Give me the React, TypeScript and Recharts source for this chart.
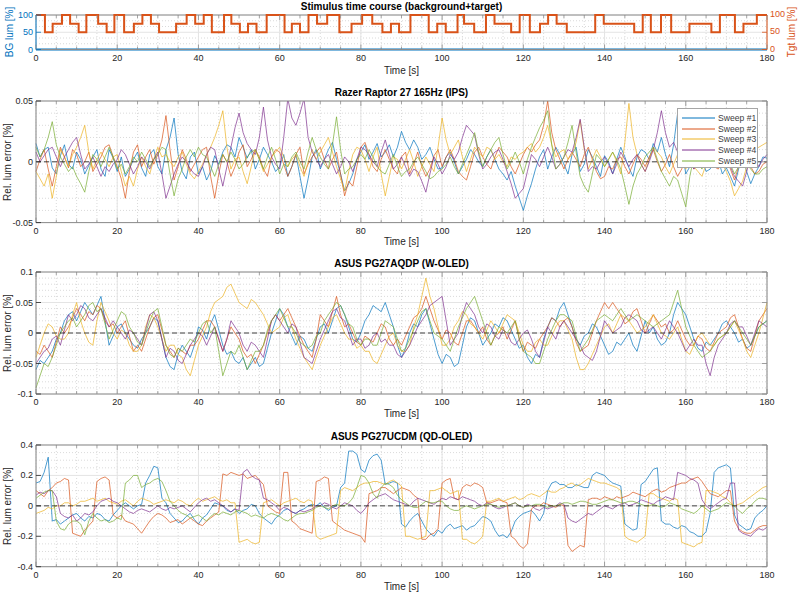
import React from "react";
import { LineChart, Line, XAxis, YAxis, CartesianGrid, ReferenceLine } from "recharts";

// ---- data (1 s sampling) ----
const TIME = [
  0, 1, 2, 3, 4, 5, 6, 7, 8, 9, 10, 11, 12, 13, 14, 15, 16, 17, 18, 19,
  20, 21, 22, 23, 24, 25, 26, 27, 28, 29, 30, 31, 32, 33, 34, 35, 36, 37, 38, 39,
  40, 41, 42, 43, 44, 45, 46, 47, 48, 49, 50, 51, 52, 53, 54, 55, 56, 57, 58, 59,
  60, 61, 62, 63, 64, 65, 66, 67, 68, 69, 70, 71, 72, 73, 74, 75, 76, 77, 78, 79,
  80, 81, 82, 83, 84, 85, 86, 87, 88, 89, 90, 91, 92, 93, 94, 95, 96, 97, 98, 99,
  100, 101, 102, 103, 104, 105, 106, 107, 108, 109, 110, 111, 112, 113, 114, 115, 116, 117, 118, 119,
  120, 121, 122, 123, 124, 125, 126, 127, 128, 129, 130, 131, 132, 133, 134, 135, 136, 137, 138, 139,
  140, 141, 142, 143, 144, 145, 146, 147, 148, 149, 150, 151, 152, 153, 154, 155, 156, 157, 158, 159,
  160, 161, 162, 163, 164, 165, 166, 167, 168, 169, 170, 171, 172, 173, 174, 175, 176, 177, 178, 179,
  180,
];

const STIM_T = [
  0, 2.2, 4.1, 6.4, 8.4, 10.5, 12.4, 15.3, 17.4, 19.3, 21.7, 24.1, 26.2, 28.3, 30.3, 34.5, 37.1, 39.2, 41.3, 43.3,
  46.3, 48.1, 50.2, 52.2, 54.3, 56.8, 61.2, 63, 65, 67.1, 69.2, 71.7, 74.7, 77.7, 80.3, 82.8, 85.3, 87.4, 89.4, 92.2,
  96.7, 98.8, 100.9, 103.8, 105.4, 107.9, 110.8, 112.9, 117, 119.1, 121.6, 124.1, 126.1, 128.2, 130.7, 137.7, 139.8,
  147.3, 149.4, 151.4, 153.9, 156.4, 160.9, 166.3, 168.4, 172.1, 174.2, 177.5, 180,
];
const TGT_LUM = [
  100, 50, 75, 100, 75, 50, 100, 75, 50, 100, 50, 75, 100, 75, 50, 75, 100, 75, 100, 50, 100, 75, 50, 75, 50, 100, 50,
  75, 50, 100, 75, 100, 50, 75, 100, 75, 50, 75, 50, 100, 50, 75, 50, 100, 75, 50, 100, 75, 50, 100, 50, 75, 100, 75,
  50, 100, 75, 50, 100, 50, 100, 50, 75, 50, 100, 50, 75, 100, 100,
];
const BG_LUM = 0;

const SWEEP_NAMES = ["Sweep #1", "Sweep #2", "Sweep #3", "Sweep #4", "Sweep #5"];

// Razer Raptor 27 165Hz (IPS)
const IPS_1 = [
  0.015, 0.004, 0.01, 0.012, -0.005, -0.01, 0.005, 0.014, -0.002, -0.006, 0.008, 0.002, -0.01, -0.003, 0.004, 0.01, -0.006, -0.012, 0.01, 0.003,
  -0.008, 0.004, -0.012, -0.006, 0.002, 0.008, -0.005, -0.012, 0.006, 0.01, -0.004, -0.01, 0.01, 0.02, 0.036, 0.006, -0.008, -0.014, 0.004, 0.008,
  -0.01, -0.004, -0.015, -0.008, 0.005, -0.002, 0.008, 0.014, 0.012, 0.004, 0.02, 0.012, 0.003, 0.01, -0.006, 0.002, 0.012, 0.006, 0.0, -0.008,
  -0.004, 0.006, -0.012, -0.004, 0.006, -0.012, -0.03, -0.014, 0.004, 0.01, -0.006, 0.002, 0.01, 0.016, 0.002, -0.01, -0.024, -0.018, -0.01, 0.002,
  0.008, 0.014, 0.002, 0.008, 0.015, 0.004, 0.008, 0.014, 0.004, 0.012, 0.025, 0.016, 0.01, 0.018, 0.012, 0.002, 0.006, 0.012, 0.002, -0.006,
  -0.005, 0.004, 0.008, 0.0, -0.01, -0.004, 0.002, 0.01, 0.006, 0.0, -0.004, 0.004, 0.01, 0.002, -0.006, -0.01, -0.015, -0.008, -0.02, -0.03,
  -0.04, -0.028, -0.018, -0.006, 0.004, 0.01, -0.006, 0.004, 0.012, 0.006, -0.002, -0.01, 0.006, 0.012, -0.008, -0.002, 0.01, 0.004, -0.004, -0.012,
  0.005, 0.0, -0.01, 0.002, 0.012, 0.004, -0.005, -0.012, 0.004, 0.01, 0.008, 0.002, 0.015, 0.008, 0.02, 0.006, -0.004, 0.014, 0.04, 0.012,
  -0.01, -0.004, 0.004, 0.01, 0.003, -0.008, -0.006, 0.002, 0.002, -0.01, -0.005, -0.012, -0.02, -0.006, 0.004, -0.008, -0.018, -0.01, -0.004, 0.004,
  0.003,
];
const IPS_2 = [
  -0.008, 0.002, 0.01, -0.006, -0.02, -0.004, 0.012, 0.004, -0.005, 0.01, 0.006, -0.004, 0.0, 0.008, -0.008, -0.002, 0.004, 0.012, 0.014, 0.004,
  -0.004, -0.014, -0.03, -0.008, 0.008, 0.014, -0.004, 0.004, 0.01, -0.002, 0.006, 0.018, 0.038, 0.01, -0.015, -0.004, 0.01, 0.002, -0.008, -0.002,
  0.004, 0.01, 0.012, -0.012, -0.03, -0.01, 0.006, 0.0, -0.012, -0.004, 0.008, 0.014, -0.004, 0.002, 0.01, 0.004, -0.006, -0.012, 0.004, 0.01,
  0.008, -0.002, -0.012, -0.004, 0.006, 0.012, -0.01, -0.002, 0.004, 0.008, 0.012, 0.002, -0.006, 0.002, 0.008, -0.01, -0.028, -0.016, -0.02, -0.004,
  0.012, 0.016, 0.006, -0.004, -0.008, 0.002, 0.01, 0.002, -0.006, -0.01, 0.004, 0.008, -0.01, -0.002, 0.008, -0.004, -0.012, -0.006, 0.005, 0.01,
  -0.004, 0.004, 0.01, 0.002, -0.008, -0.012, -0.015, -0.004, 0.008, 0.012, 0.004, -0.002, -0.006, 0.004, 0.012, 0.008, 0.004, -0.004, -0.01, -0.002,
  0.006, 0.012, 0.008, 0.014, 0.018, 0.03, 0.05, 0.024, 0.01, 0.002, -0.006, 0.002, 0.008, 0.002, -0.004, 0.006, 0.012, 0.002, -0.008, -0.014,
  -0.012, -0.004, -0.006, 0.002, 0.004, -0.004, -0.01, -0.002, 0.006, 0.002, -0.004, 0.004, 0.01, 0.0, -0.008, -0.002, 0.006, -0.004, -0.012, -0.006,
  0.004, 0.008, -0.006, 0.002, 0.008, 0.004, 0.002, -0.004, -0.006, 0.0, 0.004, -0.006, -0.015, -0.004, 0.006, 0.002, -0.004, -0.01, -0.008, -0.002,
  0.0,
];
const IPS_3 = [
  -0.008, -0.014, -0.02, -0.01, -0.03, -0.012, 0.01, 0.004, -0.004, 0.006, 0.012, 0.02, 0.03, 0.008, -0.006, 0.002, 0.008, 0.002, -0.004, 0.004,
  0.006, -0.008, -0.02, -0.012, -0.02, -0.006, 0.004, -0.004, -0.01, 0.002, 0.012, 0.004, 0.006, 0.0, -0.004, 0.004, 0.008, -0.002, -0.01, -0.014,
  -0.008, -0.002, 0.006, 0.012, 0.02, 0.03, 0.042, 0.012, -0.006, 0.002, 0.004, -0.008, -0.018, -0.004, 0.01, 0.002, -0.008, -0.002, 0.004, 0.008,
  0.012, 0.004, -0.004, 0.002, 0.006, -0.004, -0.012, 0.0, 0.01, 0.002, 0.008, 0.014, 0.02, 0.008, -0.004, -0.014, -0.024, -0.008, 0.006, 0.012,
  0.01, 0.002, -0.008, 0.004, 0.012, -0.01, -0.028, -0.012, 0.004, 0.002, -0.006, 0.002, 0.01, 0.0, -0.012, -0.004, 0.004, -0.002, -0.008, 0.012,
  0.036, 0.018, 0.006, 0.012, 0.018, 0.004, -0.008, 0.002, 0.012, 0.008, 0.004, 0.012, 0.01, 0.002, 0.006, 0.0, -0.004, 0.004, 0.002, 0.006,
  0.008, 0.012, 0.015, 0.008, 0.012, 0.02, 0.03, 0.014, 0.004, 0.008, 0.01, 0.002, 0.006, 0.016, 0.034, 0.01, -0.006, 0.002, 0.01, 0.004,
  -0.004, 0.002, 0.008, 0.0, -0.01, 0.016, 0.048, 0.02, 0.006, -0.002, -0.008, 0.002, 0.012, 0.008, 0.004, -0.004, -0.01, -0.002, 0.006, 0.0,
  -0.006, 0.002, -0.004, -0.008, -0.012, -0.002, 0.006, 0.0, 0.004, -0.002, -0.008, -0.016, -0.028, -0.022, -0.016, -0.004, 0.006, 0.01, 0.012, 0.014,
  0.016,
];
const IPS_4 = [
  0.008, 0.0, 0.005, 0.01, 0.012, 0.004, -0.004, 0.004, 0.01, 0.016, 0.02, 0.006, -0.006, -0.002, 0.004, -0.004, -0.012, -0.004, -0.008, -0.002,
  0.002, 0.01, 0.006, -0.002, -0.01, -0.004, 0.004, 0.0, -0.006, 0.002, 0.008, -0.01, -0.03, -0.02, -0.01, -0.002, 0.004, 0.0, -0.006, -0.01,
  -0.012, -0.004, 0.006, 0.012, 0.01, -0.006, -0.02, -0.004, 0.012, 0.028, 0.04, 0.024, 0.015, 0.01, 0.006, 0.02, 0.045, 0.018, 0.004, -0.002,
  -0.006, 0.02, 0.052, 0.036, 0.03, 0.04, 0.052, 0.02, 0.008, 0.002, -0.004, 0.002, 0.006, -0.002, -0.01, -0.004, 0.004, 0.0, -0.008, 0.002,
  0.012, 0.01, 0.006, 0.0, -0.004, 0.008, 0.018, 0.006, -0.006, -0.002, 0.004, -0.004, -0.012, -0.006, -0.008, -0.016, -0.025, -0.01, 0.004, -0.002,
  -0.01, -0.004, 0.006, 0.002, 0.008, 0.02, 0.03, 0.026, 0.022, 0.006, -0.006, -0.002, 0.004, 0.008, 0.01, 0.002, -0.008, -0.018, -0.03, -0.026,
  -0.022, -0.008, 0.006, 0.002, -0.004, 0.004, 0.012, 0.004, -0.006, -0.002, 0.004, 0.01, 0.008, 0.02, 0.035, 0.012, -0.008, -0.004, -0.006, 0.0,
  0.004, -0.002, -0.01, -0.002, 0.008, 0.002, -0.004, 0.002, 0.006, -0.002, -0.008, 0.0, 0.01, 0.024, 0.042, 0.024, 0.012, 0.016, 0.008, 0.002,
  0.004, 0.0, -0.006, 0.0, 0.006, 0.002, -0.004, 0.0, 0.002, 0.006, 0.004, -0.004, -0.012, -0.016, -0.02, -0.008, 0.004, 0.002, -0.004, 0.002,
  0.006,
];
const IPS_5 = [
  0.012, 0.004, 0.01, 0.02, 0.033, 0.014, 0.004, -0.002, -0.008, -0.004, -0.012, -0.018, -0.025, -0.008, 0.006, 0.002, -0.004, 0.004, 0.012, 0.004,
  -0.006, -0.002, -0.01, -0.004, 0.004, 0.0, 0.008, 0.002, -0.004, 0.002, 0.006, 0.012, 0.01, -0.01, -0.028, -0.014, -0.006, 0.004, 0.01, 0.004,
  0.012, 0.006, 0.004, -0.004, -0.012, -0.002, 0.006, 0.0, 0.008, 0.002, -0.006, -0.002, 0.004, 0.008, 0.01, 0.002, -0.006, 0.004, 0.012, 0.002,
  -0.01, -0.002, -0.004, 0.004, 0.008, 0.0, -0.006, 0.008, 0.02, 0.01, 0.004, -0.002, -0.006, 0.014, 0.037, 0.01, -0.01, -0.006, -0.004, 0.002,
  0.006, 0.002, 0.01, 0.004, -0.004, -0.008, -0.01, -0.002, 0.006, -0.004, -0.012, -0.008, -0.006, 0.0, 0.004, -0.002, -0.008, -0.014, -0.012, -0.008,
  -0.006, -0.002, 0.004, -0.004, -0.01, -0.002, 0.006, 0.014, 0.024, 0.008, -0.004, 0.004, 0.01, 0.016, 0.02, 0.006, -0.006, 0.0, 0.008, 0.0,
  -0.01, 0.002, 0.012, 0.02, 0.028, 0.034, 0.042, 0.014, -0.006, -0.002, 0.004, 0.016, 0.03, 0.008, -0.012, -0.02, -0.025, -0.01, 0.006, 0.002,
  -0.004, 0.002, 0.008, 0.002, -0.006, -0.02, -0.035, -0.02, -0.01, -0.004, 0.004, 0.008, 0.012, 0.002, -0.008, -0.014, -0.02, -0.012, -0.015, -0.026,
  -0.037, -0.012, 0.004, -0.002, -0.006, 0.002, 0.008, 0.002, -0.004, 0.002, 0.006, -0.002, -0.01, -0.004, 0.004, -0.002, -0.006, -0.01, -0.01, -0.006,
  -0.004,
];

// ASUS PG27AQDP (W-OLED)
const WOLED_1 = [
  -0.06, -0.045, -0.05, -0.04, -0.03, -0.01, 0.0, 0.02, 0.03, 0.035, 0.02, 0.035, 0.05, 0.04, 0.03, 0.045, 0.06, 0.02, -0.02, -0.005,
  0.01, 0.015, 0.0, -0.01, -0.02, -0.025, -0.01, 0.0, 0.01, 0.025, 0.02, -0.01, -0.04, -0.055, -0.06, -0.035, -0.02, -0.03, -0.04, -0.02,
  0.01, 0.005, -0.01, 0.015, 0.03, 0.005, -0.02, -0.035, -0.03, -0.045, -0.05, -0.04, -0.06, -0.05, -0.04, -0.055, -0.05, -0.025, 0.0, 0.02,
  0.04, 0.03, 0.01, -0.005, -0.02, -0.005, -0.01, -0.025, -0.03, -0.01, 0.01, 0.015, 0.0, 0.02, 0.04, 0.045, 0.03, 0.01, -0.01, -0.015,
  0.0, 0.02, 0.03, 0.045, 0.04, 0.035, 0.05, 0.03, 0.01, -0.02, -0.04, -0.025, 0.0, 0.015, 0.01, 0.03, 0.04, 0.015, -0.01, -0.035,
  -0.05, -0.035, -0.04, -0.055, -0.05, -0.02, 0.01, 0.025, 0.02, 0.0, -0.02, -0.01, 0.0, 0.015, 0.01, 0.025, 0.02, 0.005, -0.01, -0.025,
  -0.02, -0.04, -0.05, -0.035, -0.04, -0.01, 0.01, 0.025, 0.02, 0.04, 0.05, 0.03, 0.01, -0.01, -0.02, -0.005, 0.0, 0.015, 0.01, -0.005,
  -0.02, -0.035, -0.03, -0.015, -0.02, -0.01, 0.0, -0.02, -0.03, -0.005, 0.02, 0.0, 0.01, -0.01, -0.02, -0.015, 0.0, 0.03, 0.05, 0.04,
  0.03, 0.01, -0.01, -0.025, -0.03, -0.015, -0.02, -0.01, 0.0, 0.015, 0.02, 0.01, 0.0, -0.015, -0.01, -0.025, -0.02, -0.005, 0.01, 0.015,
  0.02,
];
const WOLED_2 = [
  -0.03, -0.035, -0.02, -0.03, -0.04, -0.015, 0.01, 0.0, 0.01, 0.025, 0.04, 0.03, 0.02, 0.035, 0.03, 0.045, 0.04, 0.02, 0.01, 0.015,
  0.0, 0.01, 0.02, -0.005, -0.03, -0.02, -0.03, -0.01, 0.01, 0.025, 0.03, 0.005, -0.02, -0.03, -0.04, -0.025, -0.03, -0.035, -0.02, -0.02,
  -0.01, 0.005, 0.02, 0.02, 0.01, -0.01, -0.03, -0.01, 0.01, 0.0, -0.01, -0.03, -0.04, -0.035, -0.05, -0.035, -0.02, 0.0, 0.02, 0.03,
  0.02, 0.03, 0.04, 0.025, 0.01, -0.005, -0.02, -0.03, -0.04, -0.01, 0.03, 0.02, 0.01, 0.035, 0.06, 0.03, 0.01, 0.015, 0.0, -0.015,
  -0.02, -0.005, -0.01, -0.015, 0.0, 0.015, 0.01, -0.01, -0.02, -0.01, -0.02, -0.005, 0.01, 0.025, 0.03, 0.04, 0.06, 0.04, 0.02, 0.005,
  -0.01, 0.005, 0.0, -0.015, -0.02, 0.0, 0.02, 0.02, 0.01, 0.0, 0.01, -0.01, -0.02, -0.005, 0.0, 0.01, -0.01, 0.005, 0.02, -0.01,
  -0.03, -0.015, -0.02, -0.025, -0.01, 0.0, 0.01, 0.025, 0.02, 0.01, 0.02, 0.025, 0.01, -0.015, -0.03, -0.025, -0.02, 0.0, 0.02, 0.035,
  0.05, 0.04, 0.05, 0.04, 0.03, 0.015, 0.02, 0.035, 0.04, 0.02, 0.0, 0.015, 0.03, 0.02, 0.01, 0.015, 0.0, 0.005, 0.02, 0.005,
  -0.01, -0.02, -0.02, -0.005, -0.01, -0.025, -0.03, -0.015, 0.0, 0.005, 0.01, 0.025, 0.03, 0.01, -0.01, -0.025, -0.03, -0.005, 0.02, 0.03,
  0.04,
];
const WOLED_3 = [
  -0.04, -0.02, 0.0, 0.015, 0.01, -0.005, -0.01, -0.01, 0.0, 0.03, 0.05, 0.02, 0.0, -0.015, -0.02, 0.02, 0.05, 0.035, 0.02, 0.0,
  -0.01, 0.005, 0.0, -0.02, -0.03, -0.03, -0.02, 0.01, 0.03, 0.025, 0.01, -0.01, -0.03, -0.02, -0.02, -0.035, -0.04, -0.06, -0.07, -0.045,
  -0.02, -0.005, 0.01, 0.035, 0.05, 0.055, 0.06, 0.075, 0.08, 0.065, 0.05, 0.045, 0.04, 0.055, 0.05, 0.04, 0.03, 0.015, 0.0, 0.005,
  0.01, 0.025, 0.03, 0.01, -0.01, -0.025, -0.04, -0.05, -0.06, -0.04, -0.02, -0.005, 0.01, 0.025, 0.03, 0.015, 0.0, -0.01, -0.01, -0.025,
  -0.02, -0.03, -0.03, -0.045, -0.05, -0.035, -0.02, -0.005, 0.0, -0.02, -0.03, -0.03, -0.02, 0.01, 0.03, 0.06, 0.09, 0.06, 0.04, 0.01,
  -0.02, -0.02, -0.01, 0.01, 0.02, 0.035, 0.03, 0.015, 0.01, 0.0, -0.01, 0.005, 0.02, 0.01, 0.0, 0.015, 0.03, 0.025, 0.02, 0.0,
  -0.02, -0.03, -0.03, -0.015, -0.01, -0.02, -0.02, -0.005, 0.01, 0.02, 0.02, 0.005, -0.01, -0.04, -0.06, -0.06, -0.05, -0.035, -0.02, -0.005,
  0.01, 0.015, 0.0, 0.015, 0.03, 0.025, 0.02, 0.01, 0.0, 0.005, 0.01, 0.02, 0.03, 0.015, 0.0, -0.005, -0.01, 0.0, 0.01, -0.01,
  -0.03, -0.035, -0.02, -0.005, 0.0, -0.01, -0.02, -0.02, -0.01, -0.005, 0.0, 0.01, 0.02, 0.005, -0.01, -0.03, -0.04, -0.02, 0.0, 0.025,
  0.05,
];
const WOLED_4 = [
  -0.05, -0.04, -0.03, -0.025, -0.01, -0.005, -0.02, 0.005, 0.03, 0.02, 0.03, 0.045, 0.04, 0.025, 0.02, 0.03, 0.04, 0.025, 0.01, 0.02,
  0.01, 0.0, -0.01, 0.005, 0.0, -0.01, -0.02, 0.005, 0.03, 0.035, 0.02, -0.01, -0.04, -0.025, -0.03, -0.045, -0.05, -0.035, -0.02, -0.01,
  0.0, -0.005, -0.02, -0.005, 0.01, -0.01, -0.03, -0.01, 0.02, 0.01, 0.0, -0.02, -0.03, -0.015, -0.02, -0.03, -0.04, -0.01, 0.02, 0.03,
  0.02, 0.01, 0.0, 0.015, 0.01, -0.015, -0.04, -0.045, -0.05, -0.03, -0.01, 0.005, 0.02, 0.035, 0.04, 0.025, 0.02, 0.0, -0.02, -0.01,
  -0.01, -0.025, -0.02, -0.005, 0.0, -0.015, -0.01, -0.02, -0.02, -0.035, -0.04, -0.03, -0.02, -0.005, 0.01, 0.02, 0.03, 0.045, 0.05, 0.055,
  0.06, 0.02, -0.02, -0.01, 0.0, 0.03, 0.05, 0.04, 0.03, 0.01, 0.0, 0.015, 0.01, -0.005, -0.01, 0.005, 0.0, -0.015, -0.02, -0.01,
  0.0, 0.005, -0.01, -0.03, -0.04, -0.015, 0.01, 0.0, -0.01, 0.01, 0.02, 0.01, 0.0, -0.01, -0.02, -0.035, -0.04, -0.045, -0.03, -0.005,
  0.02, 0.01, 0.0, 0.005, 0.01, 0.025, 0.03, 0.025, 0.02, 0.005, 0.0, 0.005, 0.01, 0.0, -0.01, 0.005, 0.02, 0.01, 0.0, -0.015,
  -0.03, -0.02, -0.01, -0.02, -0.02, -0.05, -0.07, -0.04, -0.02, -0.01, 0.0, 0.015, 0.02, 0.01, 0.01, -0.005, -0.02, 0.0, 0.02, 0.015,
  0.01,
];
const WOLED_5 = [
  -0.09, -0.07, -0.05, -0.055, -0.04, -0.02, 0.0, 0.01, 0.02, 0.025, 0.01, 0.02, 0.03, 0.045, 0.05, 0.035, 0.04, 0.015, -0.01, 0.005,
  0.02, 0.035, 0.03, 0.01, 0.0, -0.015, -0.02, 0.0, 0.02, 0.035, 0.04, 0.01, -0.02, -0.035, -0.04, -0.025, -0.03, -0.02, -0.01, -0.015,
  0.0, 0.015, 0.02, 0.0, 0.01, -0.03, -0.07, -0.05, -0.03, -0.035, -0.02, -0.04, -0.06, -0.045, -0.03, -0.03, -0.02, 0.005, 0.02, 0.03,
  0.04, 0.025, 0.01, 0.01, 0.0, -0.015, -0.02, -0.025, -0.02, -0.005, 0.0, 0.02, 0.03, 0.04, 0.05, 0.045, 0.03, 0.015, 0.01, -0.01,
  -0.02, -0.01, -0.01, -0.02, -0.02, 0.0, 0.02, 0.015, 0.01, -0.01, -0.03, -0.025, -0.01, 0.005, 0.02, 0.035, 0.04, 0.02, 0.0, -0.005,
  -0.01, -0.02, -0.03, -0.01, 0.01, 0.025, 0.04, 0.05, 0.06, 0.04, 0.02, 0.0, -0.02, -0.005, 0.01, 0.005, 0.0, 0.01, 0.02, -0.01,
  -0.03, -0.035, -0.04, -0.05, -0.05, -0.03, -0.01, 0.005, 0.02, 0.03, 0.03, 0.025, 0.02, -0.005, -0.03, -0.02, -0.01, 0.005, 0.02, 0.025,
  0.03, 0.025, 0.02, 0.03, 0.04, 0.03, 0.02, 0.025, 0.03, 0.025, 0.02, 0.015, 0.01, 0.015, 0.02, 0.025, 0.03, 0.05, 0.07, 0.04,
  0.01, -0.005, -0.02, -0.03, -0.04, -0.035, -0.03, -0.02, -0.01, -0.005, 0.0, 0.01, 0.02, 0.01, 0.0, -0.01, -0.02, -0.005, 0.01, 0.015,
  0.02,
];

// ASUS PG27UCDM (QD-OLED)
const QDOLED_1 = [
  0.15, 0.16, 0.22, 0.32, -0.1, -0.09, -0.12, -0.1, -0.08, -0.06, -0.05, -0.08, -0.1, -0.07, -0.08, -0.05, -0.06, -0.09, -0.1, -0.06,
  -0.03, 0.0, 0.02, 0.0, -0.02, 0.0, 0.01, 0.15, 0.2, 0.26, 0.25, 0.05, 0.02, -0.05, -0.08, -0.11, -0.1, -0.07, -0.05, -0.09,
  -0.12, -0.08, -0.06, -0.02, 0.02, 0.01, 0.0, -0.03, -0.04, -0.02, -0.05, -0.03, -0.02, 0.01, 0.0, -0.05, -0.08, -0.1, -0.12, -0.08,
  -0.06, -0.03, -0.02, -0.04, -0.05, -0.03, -0.02, 0.0, 0.01, 0.0, 0.02, -0.01, -0.03, -0.01, 0.0, 0.12, 0.15, 0.36, 0.36, 0.34,
  0.24, 0.22, 0.3, 0.33, 0.34, 0.3, 0.14, 0.15, 0.16, 0.15, -0.12, -0.14, -0.1, -0.07, -0.05, -0.1, -0.15, -0.18, -0.2, -0.16,
  -0.18, -0.14, -0.12, -0.15, -0.14, -0.13, -0.16, -0.14, -0.13, -0.1, -0.07, -0.08, -0.1, -0.16, -0.2, -0.19, -0.21, -0.17, -0.1, -0.07,
  -0.05, -0.04, -0.03, -0.06, -0.1, -0.05, 0.1, 0.15, 0.16, 0.14, 0.14, 0.12, 0.12, 0.14, 0.13, 0.12, 0.12, 0.2, 0.22, 0.21,
  0.2, 0.17, 0.15, 0.14, 0.13, -0.12, -0.14, -0.16, -0.15, 0.14, 0.16, 0.2, 0.24, 0.25, -0.1, -0.12, -0.12, -0.14, -0.15, -0.13,
  -0.14, -0.17, -0.18, -0.2, -0.2, -0.17, -0.05, 0.22, 0.25, 0.26, 0.27, 0.25, -0.06, -0.12, -0.14, -0.16, -0.15, -0.08, -0.05, -0.03,
  0.0,
];
const QDOLED_2 = [
  0.1, 0.08, 0.06, 0.1, 0.12, 0.15, 0.16, 0.18, 0.17, -0.18, -0.19, -0.2, -0.16, -0.13, -0.1, 0.16, 0.18, 0.19, 0.17, -0.06,
  -0.08, -0.06, -0.1, -0.11, -0.12, -0.15, -0.18, -0.14, -0.1, -0.07, -0.05, -0.06, -0.08, -0.11, -0.1, -0.09, -0.12, -0.1, -0.08, -0.1,
  -0.12, -0.13, -0.1, -0.08, -0.06, -0.04, 0.21, 0.2, 0.22, 0.21, 0.2, 0.21, 0.18, 0.19, 0.2, 0.17, 0.14, 0.0, -0.02, -0.04,
  -0.05, 0.22, 0.22, -0.1, -0.12, -0.15, -0.16, -0.17, -0.18, 0.16, 0.17, 0.19, 0.18, -0.1, -0.12, -0.14, -0.16, -0.17, -0.18, -0.19,
  -0.2, -0.24, 0.08, 0.09, 0.1, 0.12, 0.12, 0.1, 0.08, 0.1, 0.12, 0.11, 0.1, 0.07, 0.05, -0.22, -0.22, -0.19, -0.18, -0.15,
  0.15, 0.17, 0.18, 0.05, 0.04, 0.12, 0.14, 0.13, 0.15, 0.14, 0.12, 0.02, 0.02, 0.03, 0.04, 0.03, 0.02, -0.2, -0.22, -0.26,
  -0.28, -0.25, -0.02, 0.0, 0.0, 0.02, 0.01, 0.0, -0.01, 0.01, 0.0, -0.26, -0.3, -0.28, -0.26, -0.27, 0.04, 0.05, 0.05, 0.04,
  0.06, 0.05, 0.04, 0.06, 0.05, 0.06, 0.07, 0.09, 0.08, 0.07, 0.06, 0.08, 0.1, 0.11, 0.09, 0.1, 0.12, 0.13, 0.14, 0.15,
  0.15, 0.17, 0.18, 0.19, 0.16, 0.12, 0.08, 0.07, 0.06, 0.08, 0.1, 0.1, -0.1, -0.15, -0.17, -0.18, -0.18, -0.16, -0.14, -0.13,
  -0.13,
];
const QDOLED_3 = [
  -0.05, -0.04, -0.03, -0.01, -0.02, 0.0, 0.0, 0.02, 0.02, 0.0, 0.01, 0.03, 0.03, 0.04, 0.05, 0.03, 0.04, 0.05, 0.03, 0.02,
  0.01, 0.03, 0.04, 0.02, 0.0, 0.03, 0.05, 0.04, 0.03, 0.01, 0.02, 0.03, 0.04, 0.03, 0.02, 0.04, 0.03, 0.01, 0.0, 0.03,
  0.05, 0.03, 0.04, 0.05, 0.06, 0.04, 0.03, 0.04, 0.02, 0.02, -0.24, -0.23, -0.22, -0.24, -0.25, -0.24, 0.02, 0.03, 0.04, 0.02,
  0.0, 0.02, 0.03, 0.04, 0.05, 0.03, 0.02, 0.04, 0.03, -0.2, -0.22, -0.21, -0.2, -0.19, -0.18, 0.1, 0.12, 0.11, 0.1, 0.12,
  0.14, 0.15, 0.15, 0.16, 0.16, 0.15, 0.14, 0.16, 0.17, 0.15, 0.13, -0.2, -0.2, -0.21, -0.22, -0.21, -0.2, 0.1, 0.1, 0.11,
  0.12, 0.1, 0.08, 0.09, 0.1, -0.22, -0.22, -0.24, -0.25, -0.23, -0.2, 0.03, 0.03, 0.04, 0.05, 0.03, 0.04, 0.05, 0.06, 0.04,
  0.05, 0.07, 0.08, 0.07, 0.06, 0.08, 0.1, 0.09, 0.09, 0.11, 0.12, 0.14, 0.15, 0.13, 0.14, 0.16, 0.18, 0.17, 0.16, 0.15,
  0.15, 0.14, 0.13, 0.12, 0.1, -0.2, -0.22, -0.23, -0.24, -0.22, -0.2, 0.08, 0.08, 0.06, 0.05, 0.04, 0.03, 0.05, 0.04, -0.24,
  -0.25, -0.26, -0.27, -0.25, -0.24, 0.1, 0.1, 0.09, 0.08, 0.06, 0.05, 0.02, 0.0, 0.01, 0.02, 0.04, 0.06, 0.08, 0.1, 0.12,
  0.13,
];
const QDOLED_4 = [
  0.07, 0.09, 0.08, 0.1, 0.1, 0.06, -0.05, -0.07, -0.08, -0.06, -0.1, -0.08, -0.05, -0.06, -0.04, 0.0, 0.03, 0.04, 0.05, 0.03,
  0.02, 0.0, -0.02, -0.04, -0.05, -0.03, -0.02, -0.03, -0.04, -0.02, 0.0, -0.02, -0.03, -0.01, -0.02, -0.01, 0.0, -0.02, -0.04, -0.01,
  0.02, 0.04, 0.05, 0.03, 0.04, 0.02, 0.0, -0.02, -0.04, -0.02, -0.03, 0.22, 0.24, 0.2, 0.18, 0.17, 0.05, 0.04, 0.02, 0.0,
  -0.03, -0.01, -0.02, -0.04, -0.05, -0.03, -0.04, -0.03, -0.02, 0.0, 0.0, 0.02, 0.01, -0.01, -0.02, 0.0, 0.02, 0.01, 0.0, -0.03,
  -0.05, -0.02, 0.02, 0.04, 0.06, 0.07, 0.08, 0.06, 0.04, 0.03, 0.02, 0.01, 0.0, 0.03, 0.05, 0.04, 0.03, 0.02, 0.01, 0.03,
  0.05, 0.04, 0.06, 0.05, 0.04, 0.06, 0.05, 0.04, 0.03, 0.01, 0.0, 0.02, 0.01, -0.01, -0.02, -0.01, 0.0, 0.01, 0.02, 0.0,
  -0.01, 0.01, 0.0, -0.02, -0.03, -0.01, -0.02, -0.01, 0.0, 0.02, 0.01, -0.08, -0.1, -0.11, -0.09, -0.07, -0.05, -0.06, -0.04, -0.02,
  0.0, -0.01, -0.02, 0.0, 0.01, 0.02, 0.0, 0.01, 0.02, 0.04, 0.03, 0.02, 0.01, 0.03, 0.04, 0.06, 0.05, 0.04, 0.22, 0.21,
  0.2, 0.18, 0.17, 0.15, 0.04, 0.0, -0.02, 0.0, 0.02, 0.04, 0.05, 0.15, 0.15, -0.16, -0.18, -0.19, -0.2, -0.17, -0.15, -0.16,
  -0.14,
];
const QDOLED_5 = [
  0.05, 0.07, 0.09, 0.1, 0.1, -0.1, -0.15, -0.16, -0.12, -0.1, -0.1, -0.12, -0.19, -0.1, -0.05, -0.08, -0.1, -0.09, -0.11, -0.1,
  -0.08, -0.09, 0.15, 0.17, 0.2, 0.2, 0.12, 0.14, 0.15, 0.17, 0.18, 0.16, 0.1, 0.03, 0.0, -0.03, -0.05, -0.06, -0.08, -0.07,
  -0.06, -0.08, -0.1, -0.07, -0.05, -0.06, -0.04, -0.05, -0.06, -0.04, -0.03, -0.04, -0.05, -0.07, -0.06, -0.07, -0.08, -0.06, -0.05, -0.06,
  -0.07, -0.09, -0.1, -0.08, -0.06, -0.05, -0.05, -0.04, -0.03, -0.01, 0.0, -0.01, -0.02, 0.0, 0.01, 0.0, 0.0, 0.02, 0.05, 0.12,
  0.2, 0.19, 0.15, 0.08, 0.05, 0.12, 0.15, 0.14, 0.12, 0.07, 0.04, 0.02, 0.0, -0.01, -0.01, 0.01, 0.03, 0.02, 0.02, 0.03,
  0.03, 0.0, -0.02, -0.03, -0.03, -0.01, 0.0, -0.01, -0.02, -0.01, 0.0, 0.01, 0.01, 0.0, -0.01, 0.0, 0.0, 0.01, 0.02, 0.0,
  -0.01, 0.0, 0.0, 0.01, 0.01, 0.0, -0.01, 0.0, 0.0, 0.01, 0.02, 0.02, 0.01, 0.02, 0.03, 0.03, 0.02, 0.01, 0.01, 0.02,
  0.03, 0.04, 0.04, 0.03, 0.02, 0.02, 0.03, 0.03, 0.02, 0.01, 0.0, 0.0, 0.01, 0.0, -0.01, 0.0, 0.02, 0.01, 0.0, -0.02,
  -0.03, -0.04, -0.05, -0.03, 0.0, -0.02, -0.04, -0.03, -0.02, 0.0, 0.02, 0.01, 0.0, -0.03, -0.05, -0.02, 0.0, 0.03, 0.05, 0.05,
  0.04,
];

// ticks / grid
const X_TICKS = [0, 5, 10, 15, 20, 25, 30, 35, 40, 45, 50, 55, 60, 65, 70, 75, 80, 85, 90, 95, 100, 105, 110, 115, 120, 125, 130, 135, 140, 145, 150, 155, 160, 165, 170, 175, 180];
const X_LABELS = [0, 20, 40, 60, 80, 100, 120, 140, 160, 180];

// ---- styling ----
const FONT = '"Liberation Sans", Arial, Helvetica, sans-serif';
const TEXT = "#262626";
const AXIS = "#8c8c8c";
const GRID_MAJOR = "#e4e4e4";
const GRID_MINOR = "#dadada";
const COLORS = ["#0072BD", "#D95319", "#EDB120", "#7E2F8E", "#77AC30"];
const BLUE = "#0072BD";
const ORANGE = "#D95319";

const PLOT_LEFT = 36;
const PLOT_RIGHT = 767;
const MT = 10;
const X_GAP = 5;
const Y_GAP = 3;

const rows = (series: number[][]) =>
  TIME.map((t, i) => {
    const r: Record<string, number> = { t };
    series.forEach((s, k) => (r[`s${k + 1}`] = s[i]));
    return r;
  });

const stimRows = STIM_T.map((t, i) => ({ t, tgt: TGT_LUM[i], bg: BG_LUM }));

const mapScale = (axis: any) => (v: number) => {
  const s = axis?.scale;
  if (!s) return NaN;
  return typeof s === "function" ? s(v) : s.map(v);
};
const vGen = (vals: number[]) => ({ xAxis }: any) => vals.map(mapScale(xAxis)).filter((n) => !isNaN(n));
const hGen = (vals: number[]) => ({ yAxis }: any) => vals.map(mapScale(yAxis)).filter((n) => !isNaN(n));

function xTick(props: any, plotH: number) {
  const { x, y, payload } = props;
  const v = payload.value as number;
  const major = X_LABELS.includes(v);
  const base = y - X_GAP;
  const len = major ? 5 : 3;
  return (
    <g>
      <line x1={x} x2={x} y1={base} y2={base - len} stroke={AXIS} strokeWidth={0.8} />
      <line x1={x} x2={x} y1={base - plotH} y2={base - plotH + len} stroke={AXIS} strokeWidth={0.8} />
      {major && (
        <text x={x} y={y} dy="0.71em" textAnchor="middle" fontSize={9} fill={TEXT} fontFamily={FONT}>
          {v}
        </text>
      )}
    </g>
  );
}

function yTickLeft(props: any, color: string, mirror: boolean) {
  const { x, y, payload } = props;
  const base = x + Y_GAP;
  return (
    <g>
      <line x1={base} x2={base + 5} y1={y} y2={y} stroke={color} strokeWidth={0.8} />
      {mirror && <line x1={PLOT_RIGHT} x2={PLOT_RIGHT - 5} y1={y} y2={y} stroke={AXIS} strokeWidth={0.8} />}
      <text x={x} y={y} dy="0.34em" textAnchor="end" fontSize={9} fill={color} fontFamily={FONT}>
        {String(payload.value)}
      </text>
    </g>
  );
}

function yTickRight(props: any, color: string) {
  const { x, y, payload } = props;
  const base = x - Y_GAP;
  return (
    <g>
      <line x1={base} x2={base - 5} y1={y} y2={y} stroke={color} strokeWidth={0.8} />
      <text x={x} y={y - 1} dy="0.34em" textAnchor="start" fontSize={9} fill={color} fontFamily={FONT}>
        {String(payload.value)}
      </text>
    </g>
  );
}

const textAbs = (x: number, y: number, extra: React.CSSProperties = {}): React.CSSProperties => ({
  position: "absolute",
  left: x,
  top: y,
  transform: "translate(-50%, -50%)",
  whiteSpace: "nowrap",
  fontFamily: FONT,
  lineHeight: 1,
  ...extra,
});

const CX = (PLOT_LEFT + PLOT_RIGHT) / 2;

type PanelProps = {
  plotTop: number;
  plotH: number;
  title: string;
  data: Record<string, number>[];
  domain: [number, number];
  yMajor: number[];
  yMinor: number[];
  legend?: boolean;
};

function ErrorPanel({ plotTop, plotH, title, data, domain, yMajor, yMinor, legend }: PanelProps) {
  return (
    <>
      <div style={textAbs(CX, plotTop - 8, { fontSize: 10, fontWeight: "bold", color: "#000" })}>{title}</div>
      <div style={{ position: "absolute", left: 0, top: plotTop - MT }}>
        <LineChart width={800} height={plotH + MT + 30} data={data} margin={{ top: MT, right: 800 - PLOT_RIGHT, bottom: 0, left: 0 }}>
          <CartesianGrid stroke={GRID_MINOR} strokeDasharray="1 2" verticalCoordinatesGenerator={vGen(X_TICKS)} horizontalCoordinatesGenerator={hGen(yMinor)} />
          <CartesianGrid stroke={GRID_MAJOR} verticalCoordinatesGenerator={vGen(X_LABELS)} horizontalCoordinatesGenerator={hGen(yMajor)} />
          <XAxis
            dataKey="t"
            type="number"
            domain={[0, 180]}
            ticks={X_TICKS}
            interval={0}
            height={30}
            tickSize={0}
            tickMargin={X_GAP}
            tickLine={false}
            axisLine={{ stroke: AXIS }}
            tick={(p: any) => xTick(p, plotH)}
          />
          <YAxis
            type="number"
            domain={domain}
            allowDataOverflow
            ticks={yMajor}
            interval={0}
            width={PLOT_LEFT}
            tickSize={0}
            tickMargin={Y_GAP}
            tickLine={false}
            axisLine={{ stroke: AXIS }}
            tick={(p: any) => yTickLeft(p, TEXT, true)}
          />
          {SWEEP_NAMES.map((n, k) => (
            <Line
              key={n}
              dataKey={`s${k + 1}`}
              name={n}
              stroke={COLORS[k]}
              strokeWidth={0.7}
              dot={false}
              type="linear"
              isAnimationActive={false}
            />
          ))}
          <ReferenceLine y={0} stroke="#1a1a1a" strokeDasharray="5 3" strokeWidth={0.8} />
          <ReferenceLine y={domain[1]} stroke={AXIS} />
          <ReferenceLine x={180} stroke={AXIS} />
        </LineChart>
      </div>
      <div style={textAbs(8, plotTop + plotH / 2, { fontSize: 10, color: TEXT, transform: "translate(-50%, -50%) rotate(-90deg)" })}>
        Rel. lum error [%]
      </div>
      <div style={textAbs(CX, plotTop + plotH + 20, { fontSize: 10, color: TEXT })}>Time [s]</div>
      {legend && (
        <div
          style={{
            position: "absolute",
            left: 677,
            top: plotTop + 7.5,
            width: 81,
            height: 60,
            boxSizing: "border-box",
            border: "1px solid #a6a6a6",
            background: "#fff",
            paddingTop: 3.5,
          }}
        >
          {SWEEP_NAMES.map((n, k) => (
            <div key={n} style={{ display: "flex", alignItems: "center", height: 10.7 }}>
              <svg width={38} height={4} style={{ display: "block" }}>
                <line x1={4} x2={37} y1={2} y2={2} stroke={COLORS[k]} strokeWidth={1} />
              </svg>
              <span style={{ fontFamily: FONT, fontSize: 8.6, color: "#404040", marginLeft: 2 }}>{n}</span>
            </div>
          ))}
        </div>
      )}
    </>
  );
}

function StimulusPanel() {
  const plotTop = 15;
  const plotH = 34.5;
  return (
    <>
      <div style={textAbs(CX, 7, { fontSize: 10, fontWeight: "bold", color: "#000" })}>Stimulus time course (background+target)</div>
      <div style={{ position: "absolute", left: 0, top: plotTop - MT }}>
        <LineChart width={800} height={plotH + MT + 30} data={stimRows} margin={{ top: MT, right: 0, bottom: 0, left: 0 }}>
          <CartesianGrid yAxisId="bg" stroke={GRID_MINOR} strokeDasharray="1 2" verticalCoordinatesGenerator={vGen(X_TICKS)} horizontalCoordinatesGenerator={hGen([16.7, 33.3, 66.7, 83.3])} />
          <CartesianGrid yAxisId="bg" stroke={GRID_MAJOR} verticalCoordinatesGenerator={vGen(X_LABELS)} horizontalCoordinatesGenerator={hGen([0, 50, 100])} />
          <XAxis
            dataKey="t"
            type="number"
            domain={[0, 180]}
            ticks={X_TICKS}
            interval={0}
            height={30}
            tickSize={0}
            tickMargin={X_GAP}
            tickLine={false}
            axisLine={{ stroke: AXIS }}
            tick={(p: any) => xTick(p, plotH)}
          />
          <YAxis
            yAxisId="bg"
            type="number"
            domain={[0, 100]}
            ticks={[0, 50, 100]}
            interval={0}
            width={PLOT_LEFT}
            tickSize={0}
            tickMargin={Y_GAP}
            tickLine={false}
            axisLine={{ stroke: BLUE }}
            tick={(p: any) => yTickLeft(p, BLUE, false)}
          />
          <YAxis
            yAxisId="tgt"
            orientation="right"
            type="number"
            domain={[0, 100]}
            ticks={[0, 50, 100]}
            interval={0}
            width={800 - PLOT_RIGHT}
            tickSize={0}
            tickMargin={Y_GAP}
            tickLine={false}
            axisLine={{ stroke: ORANGE }}
            tick={(p: any) => yTickRight(p, ORANGE)}
          />
          <ReferenceLine yAxisId="bg" y={100} stroke={AXIS} />
          <Line yAxisId="tgt" dataKey="tgt" type="stepAfter" stroke={ORANGE} strokeWidth={2} dot={false} isAnimationActive={false} />
          <Line yAxisId="bg" dataKey="bg" type="stepAfter" stroke={BLUE} strokeWidth={2} dot={false} isAnimationActive={false} />
        </LineChart>
      </div>
      <div style={textAbs(10, plotTop + plotH / 2, { fontSize: 10, color: BLUE, transform: "translate(-50%, -50%) rotate(-90deg)" })}>BG lum [%]</div>
      <div style={textAbs(792, plotTop + plotH / 2, { fontSize: 10, color: ORANGE, transform: "translate(-50%, -50%) rotate(-90deg)" })}>Tgt lum [%]</div>
      <div style={textAbs(CX, plotTop + plotH + 21, { fontSize: 10, color: TEXT })}>Time [s]</div>
    </>
  );
}

export default function App() {
  return (
    <div style={{ position: "absolute", left: 0, top: 0, width: 800, height: 595, background: "#fff", overflow: "hidden" }}>
      <StimulusPanel />
      <ErrorPanel
        plotTop={100.7}
        plotH={121.6}
        title="Razer Raptor 27 165Hz (IPS)"
        data={rows([IPS_1, IPS_2, IPS_3, IPS_4, IPS_5])}
        domain={[-0.05, 0.05]}
        yMajor={[-0.05, 0, 0.05]}
        yMinor={[-0.04, -0.03, -0.02, -0.01, 0.01, 0.02, 0.03, 0.04]}
        legend
      />
      <ErrorPanel
        plotTop={272.3}
        plotH={122}
        title="ASUS PG27AQDP (W-OLED)"
        data={rows([WOLED_1, WOLED_2, WOLED_3, WOLED_4, WOLED_5])}
        domain={[-0.1, 0.1]}
        yMajor={[-0.1, -0.05, 0, 0.05, 0.1]}
        yMinor={[-0.09, -0.08, -0.07, -0.06, -0.04, -0.03, -0.02, -0.01, 0.01, 0.02, 0.03, 0.04, 0.06, 0.07, 0.08, 0.09]}
      />
      <ErrorPanel
        plotTop={445}
        plotH={121.7}
        title="ASUS PG27UCDM (QD-OLED)"
        data={rows([QDOLED_1, QDOLED_2, QDOLED_3, QDOLED_4, QDOLED_5])}
        domain={[-0.4, 0.4]}
        yMajor={[-0.4, -0.2, 0, 0.2, 0.4]}
        yMinor={[-0.35, -0.3, -0.25, -0.15, -0.1, -0.05, 0.05, 0.1, 0.15, 0.25, 0.3, 0.35]}
      />
    </div>
  );
}
